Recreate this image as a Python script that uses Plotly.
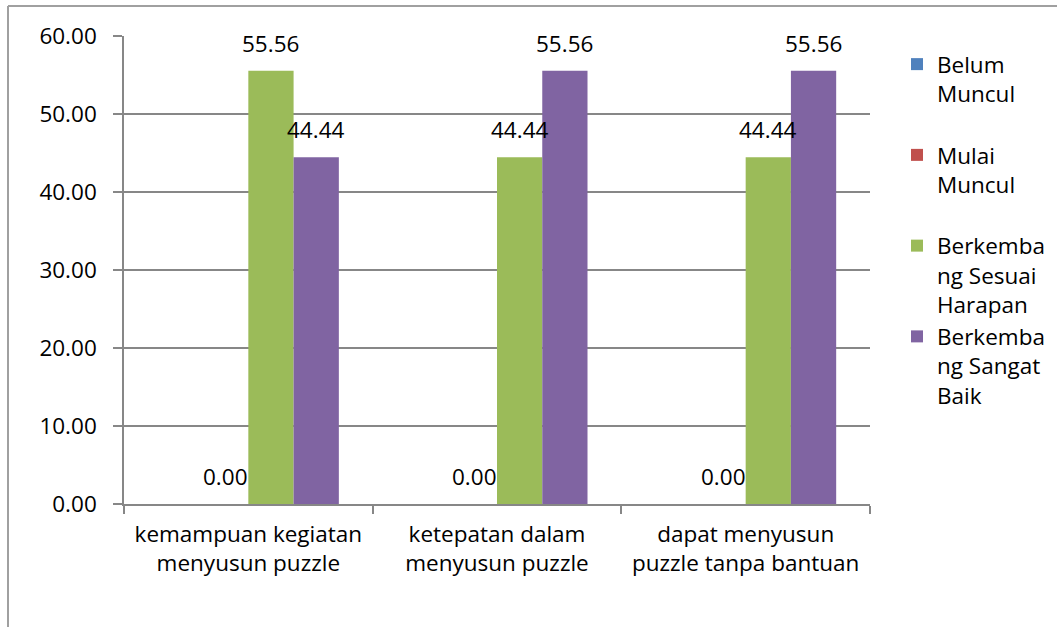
import plotly.graph_objects as go

categories = ["kemampuan kegiatan<br>menyusun puzzle",
              "ketepatan dalam<br>menyusun puzzle",
              "dapat menyusun<br>puzzle tanpa bantuan"]
series_names = ["Belum<br>Muncul<br> ",
                "Mulai<br>Muncul<br> ",
                "Berkemba<br>ng Sesuai<br>Harapan",
                "Berkemba<br>ng Sangat<br>Baik"]
belum_muncul = [0.00, 0.00, 0.00]
mulai_muncul = [0.00, 0.00, 0.00]
bsh = [55.56, 44.44, 44.44]
bsb = [44.44, 55.56, 55.56]
series_values = [belum_muncul, mulai_muncul, bsh, bsb]
series_labels = [False, True, True, True]
colors = ["#4F81BD", "#C0504D", "#9BBB59", "#8064A2"]

W, H = 1057, 627
ML, MR, MT, MB = 124, 187, 36, 123
FONT = "Open Sans"
FS = 22.5
GRID = "#878787"
BARGAP = 0.272

fig = go.Figure()
for name, vals, col in zip(series_names, series_values, colors):
    fig.add_trace(go.Bar(x=categories, y=vals, name=name, marker_color=col,
                         marker_line_width=0))

n = len(series_values)
bw = (1 - BARGAP) / n
annotations = []
for k, (vals, show) in enumerate(zip(series_values, series_labels)):
    if not show:
        continue
    for i, v in enumerate(vals):
        xc = i - (1 - BARGAP) / 2 + (k + 0.5) * bw
        annotations.append(dict(x=xc, y=v, xref="x", yref="y", text=f"{v:.2f}",
                                showarrow=False, yanchor="bottom", yshift=10,
                                font=dict(family=FONT, size=FS, color="black")))

pw = W - ML - MR
ph = H - MT - MB
def px_x(p):
    return (p - ML) / pw
def px_y(p):
    return (H - MB - p) / ph

shapes = [
    dict(type="line", xref="paper", yref="paper", x0=px_x(8), x1=px_x(W), y0=px_y(6), y1=px_y(6),
         line=dict(color="#A0A0A0", width=2)),
    dict(type="line", xref="paper", yref="paper", x0=px_x(8), x1=px_x(8), y0=px_y(6), y1=px_y(H),
         line=dict(color="#A0A0A0", width=2)),
]

fig.update_layout(
    width=W, height=H,
    margin=dict(l=ML, r=MR, t=MT, b=MB, pad=0, autoexpand=False),
    paper_bgcolor="white", plot_bgcolor="white",
    barmode="group", bargap=BARGAP, bargroupgap=0,
    font=dict(family=FONT, size=FS, color="black"),
    showlegend=True,
    legend=dict(x=px_x(897), y=px_y(43), xanchor="left", yanchor="top",
                valign="top", font=dict(family=FONT, size=FS, color="black"),
                bgcolor="rgba(0,0,0,0)", tracegroupgap=0),
    annotations=annotations,
    shapes=shapes,
)
fig.update_xaxes(showline=True, linecolor=GRID, linewidth=1.5, ticks="outside",
                 tickson="boundaries", ticklen=8, tickcolor=GRID, tickwidth=1.5,
                 showgrid=False, zeroline=False, ticklabelstandoff=9,
                 tickfont=dict(family=FONT, size=FS, color="black"))
fig.update_yaxes(range=[0, 60], dtick=10, tickformat=".2f", showline=True,
                 linecolor=GRID, linewidth=1.5, ticks="outside", ticklen=9,
                 tickcolor=GRID, tickwidth=1.5, showgrid=True, gridcolor=GRID,
                 gridwidth=1.5, zeroline=False, ticklabelstandoff=12,
                 tickfont=dict(family=FONT, size=FS, color="black"))

fig.write_html("out.html")
